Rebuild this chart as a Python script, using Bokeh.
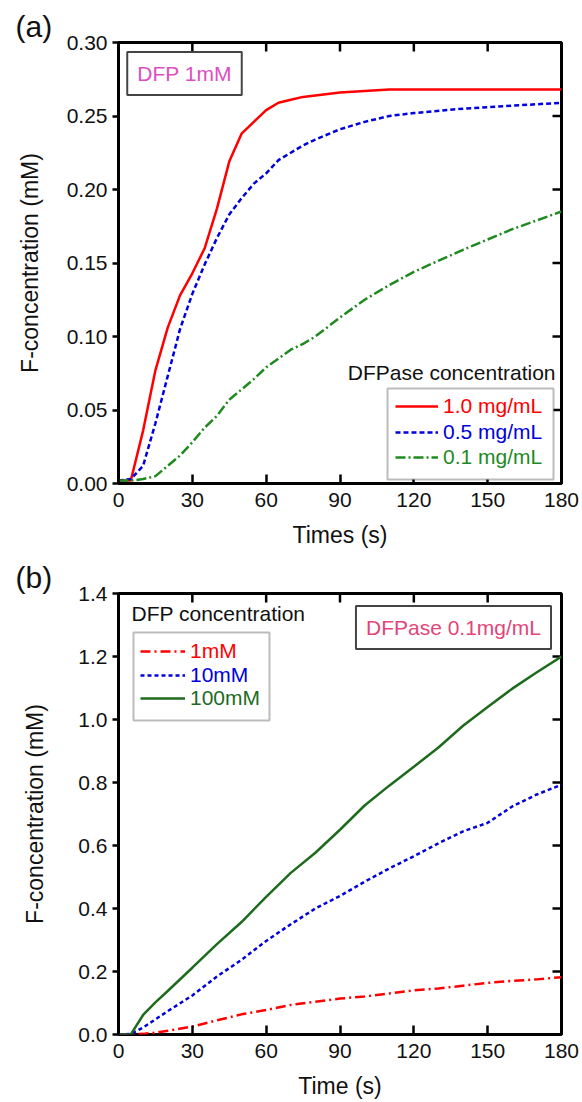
import math
from bokeh.plotting import figure
from bokeh.models import (Legend, LegendItem, Label, BoxAnnotation,
                          FixedTicker, NumeralTickFormatter, Range1d)
from bokeh.layouts import column
from bokeh.embed import file_html
from bokeh.resources import INLINE

FONT = "Liberation Sans"

# ---------------- data: panel (a) ----------------
time_a = [0, 5, 10, 15, 20, 25, 30, 35, 40, 45, 50, 55, 60, 65, 70, 75, 80, 90, 100, 110, 120, 140, 160, 180]
f_a_10 = [0.002, 0.002, 0.036, 0.077, 0.106, 0.128, 0.143, 0.160, 0.187, 0.219, 0.238, 0.246, 0.254, 0.259,
          0.261, 0.263, 0.264, 0.266, 0.267, 0.268, 0.268, 0.268, 0.268, 0.268]
f_a_05 = [0.002, 0.003, 0.012, 0.041, 0.073, 0.105, 0.129, 0.149, 0.167, 0.183, 0.194, 0.204, 0.211, 0.220,
          0.225, 0.230, 0.234, 0.241, 0.246, 0.250, 0.252, 0.255, 0.257, 0.259]
f_a_01 = [0.002, 0.002, 0.003, 0.005, 0.012, 0.019, 0.028, 0.038, 0.046, 0.057, 0.064, 0.071, 0.079, 0.085,
          0.091, 0.095, 0.100, 0.113, 0.125, 0.135, 0.144, 0.159, 0.173, 0.185]
labels_a = ["1.0 mg/mL", "0.5 mg/mL", "0.1 mg/mL"]
yticks_a = [0.0, 0.05, 0.10, 0.15, 0.20, 0.25, 0.30]

# ---------------- data: panel (b) ----------------
time_b = [0, 5, 10, 15, 20, 30, 40, 50, 60, 70, 80, 90, 100, 110, 120, 130, 140, 150, 160, 170, 180]
f_b_1 = [0.0, 0.0, 0.002, 0.006, 0.012, 0.025, 0.045, 0.064, 0.078, 0.094, 0.104, 0.114, 0.121, 0.130,
         0.140, 0.146, 0.155, 0.164, 0.170, 0.175, 0.182]
f_b_10 = [0.0, 0.002, 0.022, 0.048, 0.074, 0.124, 0.184, 0.237, 0.297, 0.350, 0.400, 0.440, 0.485, 0.527,
          0.566, 0.607, 0.645, 0.672, 0.724, 0.762, 0.793]
f_b_100 = [0.0, 0.0, 0.062, 0.102, 0.138, 0.212, 0.287, 0.357, 0.437, 0.513, 0.577, 0.650, 0.727, 0.790,
           0.850, 0.911, 0.980, 1.040, 1.098, 1.150, 1.200]
labels_b = ["1mM", "10mM", "100mM"]
yticks_b = [0.0, 0.2, 0.4, 0.6, 0.8, 1.0, 1.2, 1.4]
xticks = [0, 30, 60, 90, 120, 150, 180]


def style(p, yticks, yfmt, xlabel, ylabel, ylab_standoff, panel_tag):
    p.outline_line_color = "black"
    p.outline_line_width = 3
    p.grid.visible = False
    p.background_fill_color = "white"
    p.border_fill_color = "white"
    xa = p.xaxis[0]
    ya = p.yaxis[0]
    xa.ticker = FixedTicker(ticks=xticks)
    ya.ticker = FixedTicker(ticks=yticks)
    ya.formatter = NumeralTickFormatter(format=yfmt)
    xa.axis_label = xlabel
    ya.axis_label = ylabel
    for ax in (xa, ya):
        ax.axis_line_color = None
        ax.minor_tick_line_color = None
        ax.major_tick_line_width = 2.5
        ax.major_tick_line_color = "black"
        ax.major_label_text_font = FONT
        ax.major_label_text_font_size = "21px"
        ax.major_label_text_color = "#111111"
        ax.axis_label_text_font = FONT
        ax.axis_label_text_font_size = "23px"
        ax.axis_label_text_font_style = "normal"
        ax.axis_label_text_color = "#111111"
    xa.major_tick_in = 9
    xa.major_tick_out = 0
    xa.major_label_standoff = 9
    xa.axis_label_standoff = 12
    ya.major_tick_in = 0
    ya.major_tick_out = 6
    ya.major_label_standoff = 5
    ya.axis_label_standoff = ylab_standoff
    # mirrored inward ticks on top and right, placed at the axis tick values
    xr, yr = p.x_range, p.y_range
    p.ray(x=xticks, y=[yr.end] * len(xticks), length=9, length_units="screen",
          angle=-math.pi / 2, line_color="black", line_width=2.5)
    p.ray(x=[xr.end] * len(yticks), y=yticks, length=9, length_units="screen",
          angle=math.pi, line_color="black", line_width=2.5)
    # panel tag as title
    p.title.text = panel_tag
    p.title.align = "left"
    p.title.offset = -103
    p.title.standoff = 0
    p.title.text_font = FONT
    p.title.text_font_size = "30px"
    p.title.text_font_style = "normal"
    p.title.text_color = "#111111"


def single_legend(p, renderer, label, color, x, y, gw):
    lg = Legend(items=[LegendItem(label=label, renderers=[renderer])],
                location=(x, y), orientation="vertical",
                background_fill_alpha=0, border_line_color=None,
                padding=0, margin=0, spacing=0,
                glyph_width=gw, glyph_height=20, label_height=20,
                label_standoff=5,
                label_text_font=FONT, label_text_font_size="21px",
                label_text_color=color)
    p.add_layout(lg, "center")


# ======================= panel (a) =======================
pa = figure(frame_width=443, frame_height=441,
            x_range=Range1d(0, 180), y_range=Range1d(0, 0.30),
            min_border_left=118, min_border_right=21,
            min_border_top=42, min_border_bottom=74,
            output_backend="svg", toolbar_location=None)
style(pa, yticks_a, "0.00", "Times (s)", "F-concentration (mM)", 21, "(a)")

ra1 = pa.line(time_a, f_a_10, line_color="#ff0000", line_width=2.5)
ra2 = pa.line(time_a, f_a_05, line_color="#0000dd", line_width=2.5, line_dash="5 3")
ra3 = pa.line(time_a, f_a_01, line_color="#1f8a1f", line_width=2.5, line_dash="10 3 2 3")

pa.add_layout(BoxAnnotation(left=269, right=435, bottom=4, top=95,
                            left_units="screen", right_units="screen",
                            bottom_units="screen", top_units="screen",
                            fill_color="white", fill_alpha=1,
                            line_color="#222222", line_width=2))
single_legend(pa, ra1, labels_a[0], "#ff0000", 277, 65, 43)
single_legend(pa, ra2, labels_a[1], "#0000dd", 277, 39, 43)
single_legend(pa, ra3, labels_a[2], "#1f8a1f", 277, 14, 43)

pa.add_layout(Label(x=437, y=111, x_units="screen", y_units="screen",
                    text="DFPase concentration", text_align="right", text_baseline="middle",
                    text_font=FONT, text_font_size="21px", text_color="#111111"))
pa.add_layout(Label(x=66, y=410, x_units="screen", y_units="screen",
                    text="DFP 1mM", text_align="center", text_baseline="middle",
                    text_font=FONT, text_font_size="21px", text_color="#dd4fbf",
                    padding=10, border_line_color="#444444", border_line_width=2,
                    background_fill_color="white"))

# ======================= panel (b) =======================
pb = figure(frame_width=443, frame_height=441,
            x_range=Range1d(0, 180), y_range=Range1d(0, 1.4),
            min_border_left=118, min_border_right=21,
            min_border_top=36, min_border_bottom=68,
            output_backend="svg", toolbar_location=None)
style(pb, yticks_b, "0.0", "Time (s)", "F-concentration (mM)", 27, "(b)")

rb1 = pb.line(time_b, f_b_1, line_color="#ff0000", line_width=2.5, line_dash="10 4 2 4")
rb2 = pb.line(time_b, f_b_10, line_color="#0000dd", line_width=2.5, line_dash="4 3")
rb3 = pb.line(time_b, f_b_100, line_color="#1e6b1e", line_width=2.5)

pb.add_layout(BoxAnnotation(left=15, right=151, bottom=314, top=402,
                            left_units="screen", right_units="screen",
                            bottom_units="screen", top_units="screen",
                            fill_color="white", fill_alpha=1,
                            line_color="#222222", line_width=2))
single_legend(pb, rb1, labels_b[0], "#ff0000", 22, 371, 45)
single_legend(pb, rb2, labels_b[1], "#0000dd", 22, 347, 45)
single_legend(pb, rb3, labels_b[2], "#1e6b1e", 22, 324, 45)

pb.add_layout(Label(x=13, y=421, x_units="screen", y_units="screen",
                    text="DFP concentration", text_align="left", text_baseline="middle",
                    text_font=FONT, text_font_size="21px", text_color="#111111"))
pb.add_layout(Label(x=335, y=407, x_units="screen", y_units="screen",
                    text="DFPase 0.1mg/mL", text_align="center", text_baseline="middle",
                    text_font=FONT, text_font_size="21px", text_color="#e2457a",
                    padding=10, border_line_color="#444444", border_line_width=2,
                    background_fill_color="white"))

layout = column(pa, pb, spacing=0)
open("out.html", "w").write(file_html(layout, INLINE))
